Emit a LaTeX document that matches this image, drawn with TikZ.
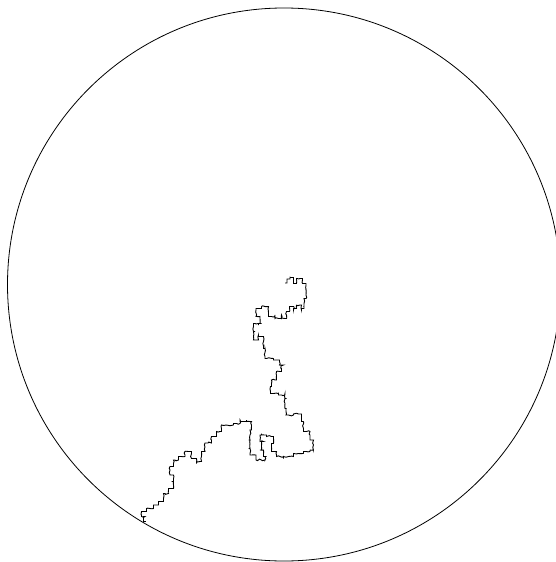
\documentclass[tikz,border=0pt]{standalone}
\usetikzlibrary{decorations.pathmorphing}
\begin{document}
\begin{tikzpicture}[x=1pt,y=-1pt,
  boundary/.style={line width=0.8pt},
  walkline/.style={line width=0.9pt, line join=miter,
    decorate, decoration={random steps, segment length=2.2pt, amplitude=0.9pt}}]
\pgfmathsetseed{11}
\useasboundingbox (0,0) rectangle (556,562);
\coordinate (c) at (284,284.5);
\draw[boundary] (c) circle[radius=276.5pt];
\draw[walkline]
 (285,283) -| (287,281.5) |- (288.5,279) -| (290,276.5) |- (292.5,277.5) -| (293.5,281.5) |- (295,283.5)
 -| (296.5,280) |- (300,278.5) -| (302.5,280) |- (304,283.5) -| (306,285.5) |- (306.5,290) -| (306,295)
 |- (305,298.5) -| (304,303.5) |- (303.5,308.5) -| (301.5,310) |- (300,305) -| (296.5,305) |- (295,308.5)
 -| (293.5,310) |- (291.5,306.5) -| (289.5,307.5) |- (288.5,311.5) -| (286.5,315) |- (285,318.5)
 -| (281.5,315) |- (278.5,318.5) -| (275,315) |- (271.5,316.5) -| (268.5,313.5) |- (265,306.5)
 -| (261.5,306.5) |- (258.5,308.5) -| (256,310) |- (256.5,316.5) -| (260,318.5) |- (261.5,323.5)
 -| (258.5,325) |- (255,323.5) -| (253.5,326.5) |- (255,331.5) -| (253.5,336.5) |- (256.5,340)
 -| (258.5,335) |- (261.5,336.5) -| (263.5,341.5) |- (265,348.5) -| (265,356.5) |- (266.5,358.5)
 -| (273.5,358.5) |- (276.5,360) -| (279.5,361.5) |- (283.5,365) -| (281.5,368.5) |- (280,371.5)
 -| (276.5,375) |- (275,380) -| (271.5,383.5) |- (270,386.5) -| (270.5,391.5) |- (273.5,393.5)
 -| (278.5,392.5) |- (281.5,395) -| (285,393.5) |- (286.5,398.5) -| (285,403.5) |- (286.5,408.5)
 -| (286,411.5) |- (288.5,415) -| (293.5,413.5) |- (298.5,414) -| (301.5,416.5) |- (303.5,421.5)
 -| (303.5,428.5) |- (306.5,431.5) -| (310,435) |- (311.5,440) -| (313.5,445) |- (313.5,450)
 -| (310,450) |- (306.5,451.5) -| (303.5,453.5) |- (298.5,453.5) -| (293.5,455) |- (288.5,456.5)
 -| (283.5,458.5) |- (280,456.5) -| (276.5,455) |- (273.5,451.5) -| (271.5,446.5) |- (273.5,443.5)
 -| (273.5,438.5) |- (271.5,436.5) -| (266.5,436.5) |- (265,435) -| (261.5,433.5) |- (259.5,435)
 -| (260,440) |- (263.5,441.5) -| (261.5,446.5) |- (260,450) -| (263.5,453.5) |- (266.5,456.5)
 -| (265,460) |- (261.5,460) -| (256,457) |- (252,455) -| (250,453.5) |- (248.5,448.5)
 -| (250,443.5) |- (248.5,440) -| (250,435) |- (251.5,430) -| (251.5,425) |- (250,421.5)
 -| (246.5,420) |- (243.5,421.5) -| (240,420) |- (236.5,423.5) -| (233.5,425) |- (226.5,425)
 -| (221.5,428.5) |- (220,431.5) -| (216.5,433.5) |- (213.5,436.5) -| (211.5,440) |- (208,443)
 -| (205,447) |- (203.5,451.5) -| (201.5,456.5) |- (200,461.5) -| (196.5,463.5) |- (193.5,458.5)
 -| (191.5,453.5) |- (188.5,451.5) -| (185,455) |- (181.5,456.5) -| (178.5,458.5) |- (175,460)
 -| (173.5,463.5) |- (171.5,466.5) -| (170,470) |- (171.5,475) -| (173.5,478.5) |- (171.5,481.5)
 -| (173.5,485) |- (171.5,488.5) -| (168.5,490) |- (165,493.5) -| (163.5,498.5) |- (161.5,501.5)
 -| (158.5,503.5) |- (156.5,505) -| (153.5,506.5) |- (150,508.5) -| (146.5,510) |- (143.5,511.5)
 -| (141.5,515) |- (145,516.5) -| (143.5,518.5) |- (146.5,521.5);
\end{tikzpicture}
\end{document}
